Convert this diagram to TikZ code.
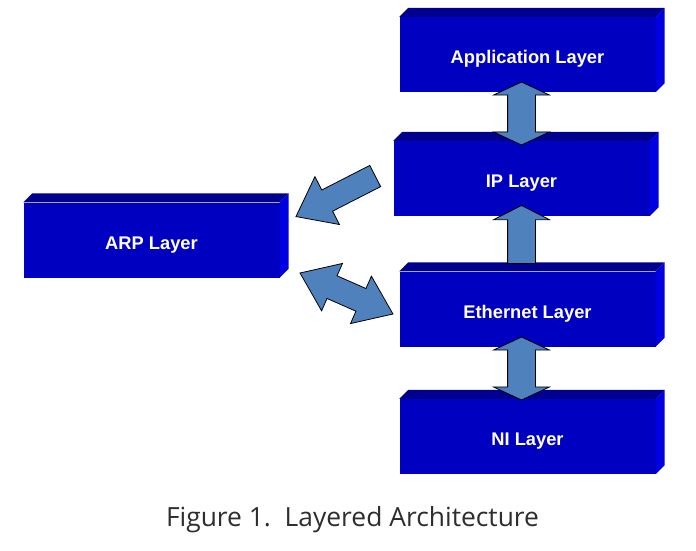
\documentclass[tikz,border=0pt]{standalone}
\usepackage{fontspec}
\setmainfont{Liberation Sans}
\newfontfamily\capfont{Open Sans}
\usetikzlibrary{shapes.arrows}
\definecolor{layerfront}{HTML}{0000C0}
\definecolor{layertop}{HTML}{00008E}
\definecolor{layerside}{HTML}{0000E0}
\definecolor{arrowblue}{HTML}{4F81BD}
\definecolor{captiongray}{HTML}{2E2E2E}
\tikzset{
  layer/.style={fill=layerfront, text=white, font=\fontsize{18.3}{20}\selectfont\bfseries,
    minimum width=256pt, minimum height=75pt, inner sep=0pt, text height=18pt, text depth=0pt},
  blockarrow/.style={draw=black, fill=arrowblue, line width=0.8pt, line join=miter,
    inner xsep=0pt, inner ysep=13.5pt},
}
\begin{document}
\begin{tikzpicture}[x=1pt, y=-1pt]
  \useasboundingbox (0,0) rectangle (696,551);
  % layers
  \node[layer] (app) at (527.5,54.5) {Application Layer};
  \node[layer] (ip) at (521.5,178.5) {IP Layer};
  \node[layer] (eth) at (527.5,309) {Ethernet Layer};
  \node[layer] (ni) at (527.5,436.5) {NI Layer};
  \node[layer] (arp) at (151.5,240) {ARP Layer};
  \foreach \n in {app,ip,eth,ni,arp}{
    \fill[layertop] (\n.north west) -- ++(9pt,9pt) -- ([shift={(9pt,9pt)}]\n.north east) -- (\n.north east) -- cycle;
    \fill[layerside] (\n.north east) -- ++(9pt,9pt) -- ([shift={(9pt,9pt)}]\n.south east) -- (\n.south east) -- cycle;
  }
  % arrows between layers
  \node[blockarrow, double arrow, minimum height=63pt, double arrow head extend=14pt,
    double arrow tip angle=130, rotate=90] (appip) at (521.5,113.5) {};
  \node[blockarrow, single arrow, minimum height=58pt, single arrow head extend=14pt,
    single arrow tip angle=126, rotate=90] (ethip) at (521.5,238) {};
  \node[blockarrow, double arrow, minimum height=63pt, double arrow head extend=14pt,
    double arrow tip angle=130, rotate=90] (ethni) at (521.5,368.5) {};
  \node[blockarrow, single arrow, inner ysep=11.5pt, minimum height=89pt, single arrow head extend=15pt,
    single arrow tip angle=75, rotate=207.1] (iparp) at (342.5,192.75) {};
  \node[blockarrow, double arrow, inner ysep=12pt, minimum height=101.6pt, double arrow head extend=13.5pt,
    double arrow tip angle=73, rotate=-23.8] (etharp) at (346.5,293.5) {};
  % caption
  \node[font=\capfont\fontsize{26.4}{30}\selectfont, text=captiongray] (cap) at (352.5,519.5)
    {Figure 1.\ \ Layered Architecture};
\end{tikzpicture}
\end{document}
